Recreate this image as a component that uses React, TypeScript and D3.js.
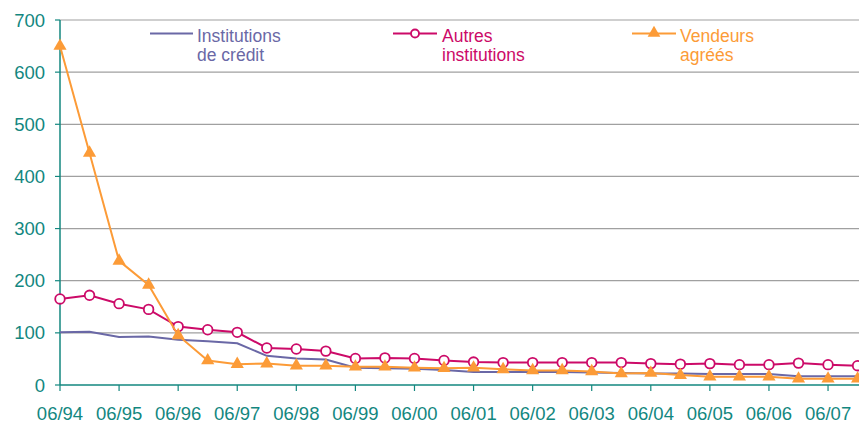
import React from "react";
import * as d3 from "d3";

const periods = [
  "06/94","12/94","06/95","12/95","06/96","12/96","06/97","12/97","06/98","12/98",
  "06/99","12/99","06/00","12/00","06/01","12/01","06/02","12/02","06/03","12/03",
  "06/04","12/04","06/05","12/05","06/06","12/06","06/07","12/07",
];
const tickLabels = ["06/94","06/95","06/96","06/97","06/98","06/99","06/00","06/01","06/02","06/03","06/04","06/05","06/06","06/07"];
const yTicks = [0, 100, 200, 300, 400, 500, 600, 700];

const institutionsCredit = [101,102,92,93,87,84,80,56,51,49,33,32,31,29,25,25,25,25,24,23,22,22,21,21,21,17,17,17];
const autresInstitutions = [165,172,156,145,112,106,101,71,69,65,51,52,51,47,44,43,43,43,43,43,41,40,41,39,39,42,39,37];
const vendeursAgrees = [650,445,238,192,95,47,40,41,37,37,35,35,33,32,33,30,28,28,26,22,23,19,16,16,16,12,12,12];

const TEAL = "#13877f";
const PURPLE = "#6a68a6";
const MAGENTA = "#cc0a68";
const ORANGE = "#fc9b37";

export default function App() {
  const W = 859, H = 424;
  const left = 60, top = 20, bottom = 385;
  const x = d3.scaleLinear().domain([0, periods.length - 1]).range([left, left + 27 * 29.54]);
  const y = d3.scaleLinear().domain([0, 700]).range([bottom, top]);
  const line = d3.line<number>().x((_, i) => x(i)).y((d) => y(d));
  const font = "'Liberation Sans', Arial, sans-serif";
  const tri = d3.symbol().type(d3.symbolTriangle).size(75)() as string;
  const triSmall = d3.symbol().type(d3.symbolTriangle).size(70)() as string;

  return (
    <svg width={W} height={H} style={{ position: "absolute", left: 0, top: 0 }} fontFamily={font}>
      <rect width={W} height={H} fill="#fff" />
      {yTicks.filter((t) => t > 0).map((t) => (
        <line key={t} x1={left} x2={W} y1={y(t)} y2={y(t)} stroke="#a0a0a0" strokeWidth={1.2} />
      ))}
      {yTicks.map((t) => (
        <g key={"yt" + t}>
          <line x1={left - 5} x2={left} y1={y(t)} y2={y(t)} stroke={TEAL} strokeWidth={1.2} />
          <text x={left - 15} y={y(t) + 6.5} textAnchor="end" fontSize={18.5} fill={TEAL}>{t}</text>
        </g>
      ))}
      <line x1={left} x2={left} y1={top} y2={bottom} stroke={TEAL} strokeWidth={1.5} />
      <line x1={left} x2={W} y1={bottom} y2={bottom} stroke={TEAL} strokeWidth={1.5} />
      {tickLabels.map((t, k) => (
        <g key={t}>
          <line x1={x(k * 2)} x2={x(k * 2)} y1={bottom} y2={bottom + 6} stroke={TEAL} strokeWidth={1.2} />
          <text x={x(k * 2)} y={bottom + 35} textAnchor="middle" fontSize={18.5} fill={TEAL}>{t}</text>
        </g>
      ))}

      <path d={line(institutionsCredit) as string} fill="none" stroke={PURPLE} strokeWidth={2} />
      <path d={line(autresInstitutions) as string} fill="none" stroke={MAGENTA} strokeWidth={2} />
      {autresInstitutions.map((v, i) => (
        <circle key={"c" + i} cx={x(i)} cy={y(v)} r={4.8} fill="#fff" stroke={MAGENTA} strokeWidth={1.8} />
      ))}
      <path d={line(vendeursAgrees) as string} fill="none" stroke={ORANGE} strokeWidth={2} />
      {vendeursAgrees.map((v, i) => (
        <path key={"t" + i} d={tri} transform={`translate(${x(i)},${y(v)})`} fill={ORANGE} />
      ))}

      {/* legend */}
      <line x1={150} x2={193} y1={33.5} y2={33.5} stroke={PURPLE} strokeWidth={2} />
      <text x={197} y={42} fontSize={17.5} fill={PURPLE}>Institutions</text>
      <text x={197} y={61} fontSize={17.5} fill={PURPLE}>de crédit</text>

      <line x1={393} x2={437} y1={33.5} y2={33.5} stroke={MAGENTA} strokeWidth={2} />
      <circle cx={415} cy={33.5} r={4} fill="#fff" stroke={MAGENTA} strokeWidth={1.8} />
      <text x={442} y={42} fontSize={17.5} fill={MAGENTA}>Autres</text>
      <text x={442} y={61} fontSize={17.5} fill={MAGENTA}>institutions</text>

      <line x1={632} x2={676} y1={33.5} y2={33.5} stroke={ORANGE} strokeWidth={2} />
      <path d={triSmall} transform="translate(654,33)" fill={ORANGE} />
      <text x={680} y={42} fontSize={17.5} fill={ORANGE}>Vendeurs</text>
      <text x={680} y={61} fontSize={17.5} fill={ORANGE}>agréés</text>
    </svg>
  );
}
